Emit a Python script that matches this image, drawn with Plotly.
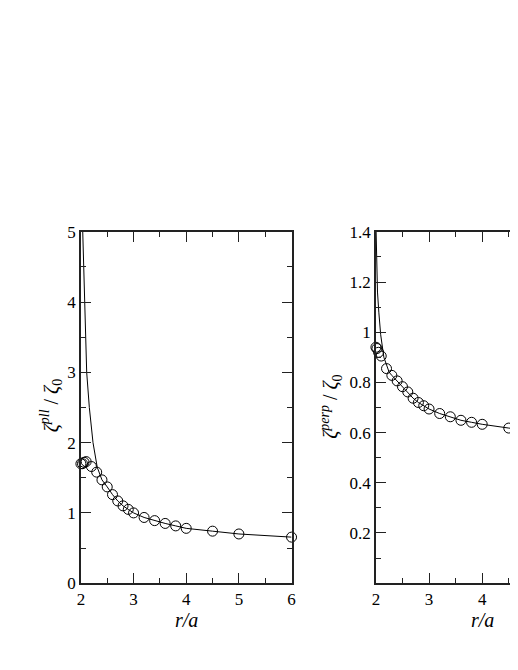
import plotly.graph_objects as go

# parallel friction, simulation points and theory curve
pll_x = [2.0, 2.03, 2.06, 2.1, 2.2, 2.3, 2.4, 2.5, 2.6, 2.7, 2.8, 2.9, 3.0,
         3.2, 3.4, 3.6, 3.8, 4.0, 4.5, 5.0, 6.0]
pll_y = [1.70, 1.70, 1.72, 1.73, 1.66, 1.58, 1.47, 1.37, 1.26, 1.17, 1.10, 1.05, 1.00,
         0.935, 0.89, 0.85, 0.815, 0.78, 0.74, 0.70, 0.655]
pll_line_x = [2.035, 2.07, 2.11, 2.16, 2.23, 2.31, 2.4, 2.5, 2.6, 2.7, 2.8, 2.9, 3.0,
              3.2, 3.4, 3.6, 3.8, 4.0, 4.5, 5.0, 6.0]
pll_line_y = [5.0, 4.0, 3.0, 2.5, 2.0, 1.65, 1.47, 1.37, 1.26, 1.17, 1.10, 1.05, 1.00,
              0.935, 0.89, 0.85, 0.815, 0.78, 0.74, 0.70, 0.655]

# perpendicular friction
perp_x = [2.0, 2.02, 2.05, 2.1, 2.2, 2.3, 2.4, 2.5, 2.6, 2.7, 2.8, 2.9, 3.0,
          3.2, 3.4, 3.6, 3.8, 4.0, 4.5]
perp_y = [0.94, 0.935, 0.92, 0.905, 0.855, 0.828, 0.806, 0.783, 0.762, 0.737, 0.72, 0.707, 0.694,
          0.676, 0.663, 0.649, 0.641, 0.633, 0.618]
perp_line_x = [2.004, 2.012, 2.03, 2.055, 2.09, 2.15, 2.25, 2.3, 2.4, 2.5, 2.6, 2.7, 2.8, 2.9, 3.0,
               3.2, 3.4, 3.6, 3.8, 4.0, 4.5, 5.0]
perp_line_y = [1.4, 1.3, 1.16, 1.08, 0.99, 0.9, 0.84, 0.828, 0.806, 0.783, 0.762, 0.737, 0.72, 0.707, 0.694,
               0.676, 0.663, 0.649, 0.641, 0.633, 0.618, 0.605]

perp_ticks = [0.2, 0.4, 0.6, 0.8, 1.0, 1.2, 1.4]
perp_ticktext = ['0.2', '0.4', '0.6', '0.8', '1', '1.2', '1.4']

# page has an 8px body margin; the right panel runs off the window edge
OFF = 8
W = 518 - OFF
H = 640 - OFF
FONT = 'Liberation Serif, Times New Roman, serif'
AX = '#222222'


def px(x):
    return (x - OFF) / W


def py(y):
    return (H + OFF - y) / H


fig = go.Figure()

line_style = dict(color='black', width=1)
marker_style = dict(symbol='circle-open', size=10, color='black', line=dict(width=1))

fig.add_trace(go.Scatter(x=pll_line_x, y=pll_line_y, mode='lines', line=line_style,
                         xaxis='x', yaxis='y'))
fig.add_trace(go.Scatter(x=pll_x, y=pll_y, mode='markers', marker=marker_style,
                         cliponaxis=False, xaxis='x', yaxis='y'))
fig.add_trace(go.Scatter(x=perp_line_x, y=perp_line_y, mode='lines', line=line_style,
                         xaxis='x2', yaxis='y2'))
fig.add_trace(go.Scatter(x=perp_x, y=perp_y, mode='markers', marker=marker_style,
                         cliponaxis=False, xaxis='x2', yaxis='y2'))


def axis_style(**kw):
    d = dict(
        showline=True, linecolor=AX, linewidth=1.5,
        ticks='inside', ticklen=10, tickwidth=1, tickcolor=AX,
        showgrid=False, zeroline=False,
        tickfont=dict(family=FONT, size=17, color='black'),
        minor=dict(ticks='inside', ticklen=5, tickwidth=1, tickcolor=AX, showgrid=False),
    )
    d.update(kw)
    return d


y_dom = [py(591.7), py(229.5)]

fig.update_layout(
    width=W, height=H,
    margin=dict(l=0, r=0, t=0, b=0),
    plot_bgcolor='white', paper_bgcolor='white',
    showlegend=False,
    font=dict(family=FONT),
    xaxis=axis_style(domain=[px(78), px(292)], range=[2, 6], dtick=1, tick0=2,
                     mirror='ticks', anchor='y', minor_dtick=0.5),
    yaxis=axis_style(domain=y_dom, range=[0, 5], dtick=1, tick0=0,
                     mirror='ticks', anchor='x', minor_dtick=0.5),
    xaxis2=axis_style(domain=[px(377.7), 1.0], range=[2, 2 + (518 - 377.7) / 54],
                      dtick=1, tick0=2, mirror='ticks', anchor='y2', minor_dtick=0.5),
    yaxis2=axis_style(domain=y_dom, range=[0, 1.4], tickvals=perp_ticks, ticktext=perp_ticktext,
                      mirror=False, anchor='x2',
                      minor=dict(ticks='inside', ticklen=5, tickwidth=1, tickcolor=AX,
                                 tickvals=[0.1, 0.3, 0.5, 0.7, 0.9, 1.1, 1.3])),
)

title_font = dict(family=FONT, size=20, color='black')
fig.add_annotation(text='<i>ζ<sup>pll</sup></i> / <i>ζ</i><sub>0</sub>', textangle=-90,
                   xref='paper', yref='paper', x=px(48), y=py(408),
                   showarrow=False, font=title_font, xanchor='center', yanchor='middle')
fig.add_annotation(text='<i>ζ<sup>perp</sup></i> / <i>ζ</i><sub>0</sub>', textangle=-90,
                   xref='paper', yref='paper', x=px(332), y=py(410),
                   showarrow=False, font=title_font, xanchor='center', yanchor='middle')
fig.add_annotation(text='<i>r/a</i>', xref='paper', yref='paper', x=px(185), y=py(630),
                   showarrow=False, font=title_font, xanchor='center', yanchor='middle')
fig.add_annotation(text='<i>r/a</i>', xref='paper', yref='paper', x=px(485.7), y=py(630),
                   showarrow=False, font=title_font, xanchor='center', yanchor='middle')

fig.write_html("out.html")
